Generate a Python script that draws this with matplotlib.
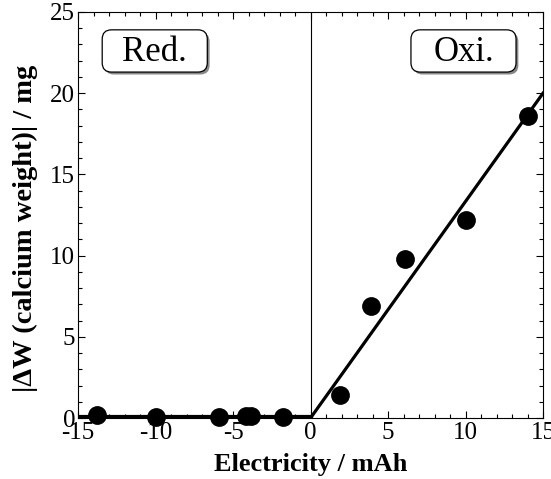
import matplotlib
matplotlib.use("Agg")
import matplotlib.pyplot as plt
from matplotlib.patches import FancyBboxPatch
from matplotlib.ticker import MultipleLocator
import numpy as np

# Data
red_x = [-13.8, -10.0, -5.9, -4.15, -3.85, -1.8]
red_y = [0.2, 0.05, 0.05, 0.1, 0.1, 0.05]
oxi_x = [1.9, 3.9, 6.1, 10.0, 14.0]
oxi_y = [1.4, 6.9, 9.8, 12.2, 18.6]
fit_red_x = [-15, 0]
fit_red_y = [0.1, 0.1]
fit_oxi_x = [0, 15]
fit_oxi_y = [0.0, 20.0]
xticks = [-15, -10, -5, 0, 5, 10, 15]
yticks = [0, 5, 10, 15, 20, 25]

plt.rcParams['font.family'] = ['Liberation Serif', 'DejaVu Serif']
plt.rcParams['axes.unicode_minus'] = False

fig = plt.figure(figsize=(5.51, 4.79), dpi=100)
ax = fig.add_axes([0.1416, 0.1273, 0.8439, 0.8477])

ax.axvline(0, color='black', lw=0.8, zorder=1)
ax.plot(fit_red_x, fit_red_y, color='black', lw=2.3, zorder=2)
ax.plot(fit_oxi_x, fit_oxi_y, color='black', lw=2.3, zorder=2)
ax.plot(red_x, red_y, 'o', color='black', ms=12.5, zorder=3, clip_on=False)
ax.plot(oxi_x, oxi_y, 'o', color='black', ms=12.5, zorder=3, clip_on=False)

ax.set_xlim(-15, 15)
ax.set_ylim(0, 25)
ax.set_xticks(xticks)
ax.set_yticks(yticks)
ax.xaxis.set_minor_locator(MultipleLocator(1))
ax.yaxis.set_minor_locator(MultipleLocator(1))
ax.tick_params(which='both', direction='in', top=True, right=True, width=0.8)
ax.tick_params(which='major', length=5, labelsize=18)
ax.tick_params(axis='x', which='major', pad=3)
ax.tick_params(axis='y', which='major', pad=2)
ax.tick_params(which='minor', length=3)
for s in ax.spines.values():
    s.set_linewidth(0.8)

ax.set_xlabel('Electricity / mAh', fontsize=19, fontweight='bold', labelpad=6)
ax.set_ylabel('|ΔW (calcium weight)| / mg', fontsize=20.5, fontweight='bold')
ax.yaxis.set_label_coords(-0.086, 0.466)

def label_box(x0, x1, y0, y1, text):
    w = x1 - x0
    h = y1 - y0
    asp = 465.0 / 406.0
    sh = FancyBboxPatch((x0 + 0.005, y0 - 0.006), w, h,
                        boxstyle='round,pad=0,rounding_size=0.02',
                        mutation_aspect=asp,
                        transform=ax.transAxes, fc='#888888', ec='none', zorder=4)
    bx = FancyBboxPatch((x0, y0), w, h,
                        boxstyle='round,pad=0,rounding_size=0.02',
                        mutation_aspect=asp,
                        transform=ax.transAxes, fc='white', ec='black', lw=0.9, zorder=5)
    ax.add_patch(sh)
    ax.add_patch(bx)
    ax.text((x0 + x1) / 2, (y0 + y1) / 2 - 0.003, text, transform=ax.transAxes,
            ha='center', va='center', fontsize=25, zorder=6)

label_box(0.052, 0.278, 0.852, 0.956, 'Red.')
label_box(0.716, 0.942, 0.852, 0.956, 'Oxi.')

fig.savefig('out.png', dpi=100)
